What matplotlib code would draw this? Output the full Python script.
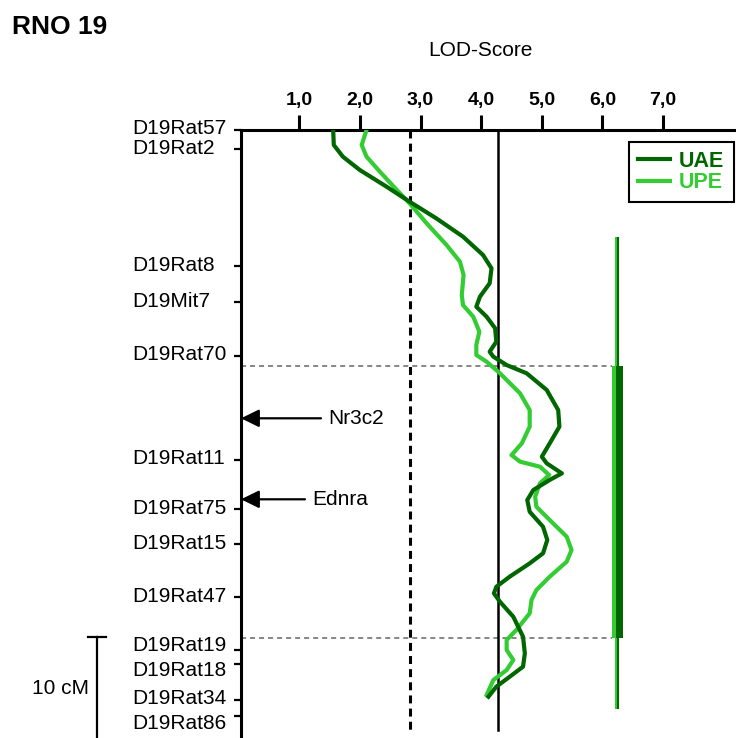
import matplotlib
matplotlib.use("Agg")
import matplotlib.pyplot as plt
from matplotlib.transforms import blended_transform_factory

plt.rcParams["font.family"] = ["Liberation Sans", "DejaVu Sans"]

# ---- data ---------------------------------------------------------------
markers = ["D19Rat57", "D19Rat2", "D19Rat8", "D19Mit7", "D19Rat70",
           "D19Rat11", "D19Rat75", "D19Rat15", "D19Rat47", "D19Rat19",
           "D19Rat18", "D19Rat34", "D19Rat86"]
marker_cm = [0.0, 1.27, 9.07, 11.49, 15.05, 22.0, 25.29, 27.62, 31.15,
             34.67, 35.62, 38.0, 39.07]

genes = ["Nr3c2", "Ednra"]
gene_cm = [19.22, 24.62]

lod_ticks = [1, 2, 3, 4, 5, 6, 7]
lod_tick_labels = ["1,0", "2,0", "3,0", "4,0", "5,0", "6,0", "7,0"]

suggestive_lod = 2.83
significant_lod = 4.28

uae_cm = [0.0, 1.0, 1.78, 2.67, 3.78, 4.78, 5.89, 7.11, 8.33, 9.22, 10.22,
          11.11, 11.78, 12.45, 13.22, 14.11, 14.78, 15.11, 15.67, 16.22,
          17.33, 18.67, 19.78, 20.89, 21.78, 22.22, 22.89, 23.33, 24.0,
          24.67, 25.45, 26.45, 27.33, 28.22, 28.89, 29.78, 30.45, 30.89,
          31.45, 32.45, 33.78, 34.89, 35.78, 36.45, 37.11, 37.78]
uae_lod = [1.56, 1.57, 1.72, 2.00, 2.44, 2.82, 3.26, 3.70, 4.03, 4.17, 4.14,
           3.98, 3.92, 4.09, 4.23, 4.25, 4.14, 4.20, 4.42, 4.75,
           5.08, 5.27, 5.29, 5.13, 5.00, 5.08, 5.33, 5.13, 4.86,
           4.76, 4.80, 5.02, 5.09, 5.02, 4.80, 4.47, 4.25, 4.21,
           4.31, 4.53, 4.69, 4.72, 4.69, 4.47, 4.25, 4.12]

upe_cm = [0.0, 1.0, 1.78, 2.78, 4.0, 4.89, 6.22, 7.67, 8.78, 9.67, 11.0,
          11.67, 12.45, 13.45, 14.33, 15.0, 15.45, 16.22, 17.55, 18.67,
          19.78, 20.89, 21.67, 22.11, 22.45, 23.0, 23.55, 24.45, 25.11,
          26.0, 27.11, 28.0, 28.78, 29.78, 30.67, 31.33, 32.22, 33.33,
          34.0, 34.67, 35.33, 36.0, 36.67, 37.67]
upe_lod = [2.11, 2.03, 2.11, 2.33, 2.61, 2.82, 3.10, 3.43, 3.65, 3.71, 3.68,
           3.70, 3.87, 3.97, 3.92, 3.92, 4.09, 4.31, 4.64, 4.80,
           4.80, 4.67, 4.50, 4.64, 4.97, 5.12, 4.97, 4.89, 4.91,
           5.13, 5.41, 5.49, 5.41, 5.13, 4.91, 4.83, 4.80, 4.58,
           4.42, 4.42, 4.53, 4.42, 4.20, 4.09]

# confidence intervals (cM): outer and inner
ci_outer = (7.11, 38.6)
ci_inner = (15.71, 33.89)

map_end_cm = 40.0

# ---- style ----------------------------------------------------------------
DARK = "#006600"
LIGHT = "#33cc33"
FS = 15

W, H = 736, 738
fig = plt.figure(figsize=(W / 100, H / 100), dpi=100)

# axes geometry in pixels
ax_left, ax_right, ax_top = 241, 800, 130
px_per_lod = 60.65
px_per_cm = 15.0
x_min = 0.04
x_max = x_min + (ax_right - ax_left) / px_per_lod
y_max = (H - ax_top) / px_per_cm

ax = fig.add_axes([ax_left / W, 0, (ax_right - ax_left) / W, (H - ax_top) / H])
ax.set_xlim(x_min, x_max)
ax.set_ylim(y_max, 0)

for side in ("right", "bottom"):
    ax.spines[side].set_visible(False)
for side in ("left", "top"):
    ax.spines[side].set_linewidth(2.2)

# LOD axis on top
ax.xaxis.tick_top()
ax.set_xticks(lod_ticks)
ax.set_xticklabels(lod_tick_labels)
ax.tick_params(axis="x", top=True, bottom=False, labeltop=True,
               labelbottom=False, length=11, width=2.2, pad=4,
               labelsize=14)
for lbl in ax.get_xticklabels():
    lbl.set_fontweight("bold")

# marker ticks on the map
ax.set_yticks(marker_cm)
ax.set_yticklabels([])
ax.tick_params(axis="y", left=True, length=5, width=1.6)

# marker names, left aligned in one column; nudges keep close ones apart
label_nudge_px = {"D19Rat19": -5, "D19Rat18": 6, "D19Rat34": -2,
                  "D19Rat86": 7}
ytrans = ax.get_yaxis_transform()
for name, cm in zip(markers, marker_cm):
    dy = -label_nudge_px.get(name, -1)
    ax.annotate(name, xy=(0, cm), xycoords=ytrans,
                xytext=(132 - ax_left, dy), textcoords="offset pixels",
                ha="left", va="center", fontsize=FS, annotation_clip=False)

# gene arrows
arrow_len_px = {"Nr3c2": 80, "Ednra": 64}
for g, cm in zip(genes, gene_cm):
    L = arrow_len_px[g]
    ax.annotate("", xy=(0, cm), xycoords=ytrans,
                xytext=(L, 0), textcoords="offset pixels",
                arrowprops=dict(arrowstyle="-|>,head_length=0.55,head_width=0.27",
                                mutation_scale=20, lw=1.6, color="black",
                                shrinkA=0, shrinkB=0),
                annotation_clip=False)
    ax.annotate(g, xy=(0, cm), xycoords=ytrans,
                xytext=(L + 7, 0), textcoords="offset pixels",
                ha="left", va="center", fontsize=FS)

# threshold lines
ax.plot([suggestive_lod, suggestive_lod], [0, map_end_cm], color="black",
        lw=2.2, linestyle=(0, (2.6, 1.7)), zorder=2)
ax.plot([significant_lod, significant_lod], [0, map_end_cm], color="black",
        lw=1.8, zorder=2)

# confidence interval bars
ci_x = {"UPE": 6.205, "UAE": 6.28}
ci_thin_x = {"UPE": 6.222, "UAE": 6.255}
for key, col in (("UPE", LIGHT), ("UAE", DARK)):
    ax.plot([ci_thin_x[key]] * 2, ci_outer, color=col, lw=1.5,
            solid_capstyle="butt", zorder=3)
ax.bar(ci_x["UPE"], ci_inner[1] - ci_inner[0], bottom=ci_inner[0],
       width=0.085, color=LIGHT, zorder=3, linewidth=0)
ax.bar(ci_x["UAE"] + 0.005, ci_inner[1] - ci_inner[0], bottom=ci_inner[0],
       width=0.11, color=DARK, zorder=3, linewidth=0)

# inner interval bounds across the plot
for yb in ci_inner:
    ax.plot([x_min, ci_x["UPE"] - 0.04], [yb, yb], color="#666666", lw=1.1,
            linestyle=(0, (3.3, 2.6)), zorder=1)

# LOD curves
l_upe, = ax.plot(upe_lod, upe_cm, color=LIGHT, lw=3,
                 solid_joinstyle="round", zorder=4, label="UPE")
l_uae, = ax.plot(uae_lod, uae_cm, color=DARK, lw=3,
                 solid_joinstyle="round", zorder=5, label="UAE")

leg = ax.legend(handles=[l_uae, l_upe], loc="upper left",
                bbox_to_anchor=(629.3 / W, 1 - 141.7 / H),
                bbox_transform=fig.transFigure, borderaxespad=0,
                frameon=True, fancybox=False, framealpha=1,
                edgecolor="black", handlelength=1.45,
                handletextpad=0.45, borderpad=0.42, labelspacing=0.02,
                labelcolor="linecolor",
                prop=dict(size=15.5, weight="bold"))
leg.get_frame().set_linewidth(1.5)

# 10 cM scale bar
sb = blended_transform_factory(fig.transFigure, ax.transData)
sb_top = 33.78
ax.plot([97 / W, 97 / W], [sb_top, sb_top + 10], color="black", lw=1.6,
        transform=sb, clip_on=False)
ax.plot([88.3 / W, 106 / W], [sb_top, sb_top], color="black", lw=1.6,
        transform=sb, clip_on=False)
fig.text(89 / W, 1 - 688 / H, "10 cM", ha="right", va="center", fontsize=FS)

# titles
fig.text(12 / W, 1 - 27 / H, "RNO 19", ha="left", va="center",
         fontsize=19, fontweight="bold")
fig.text(480 / W, 1 - 50 / H, "LOD-Score", ha="center", va="center",
         fontsize=FS)

fig.savefig("out.png", dpi=100)
